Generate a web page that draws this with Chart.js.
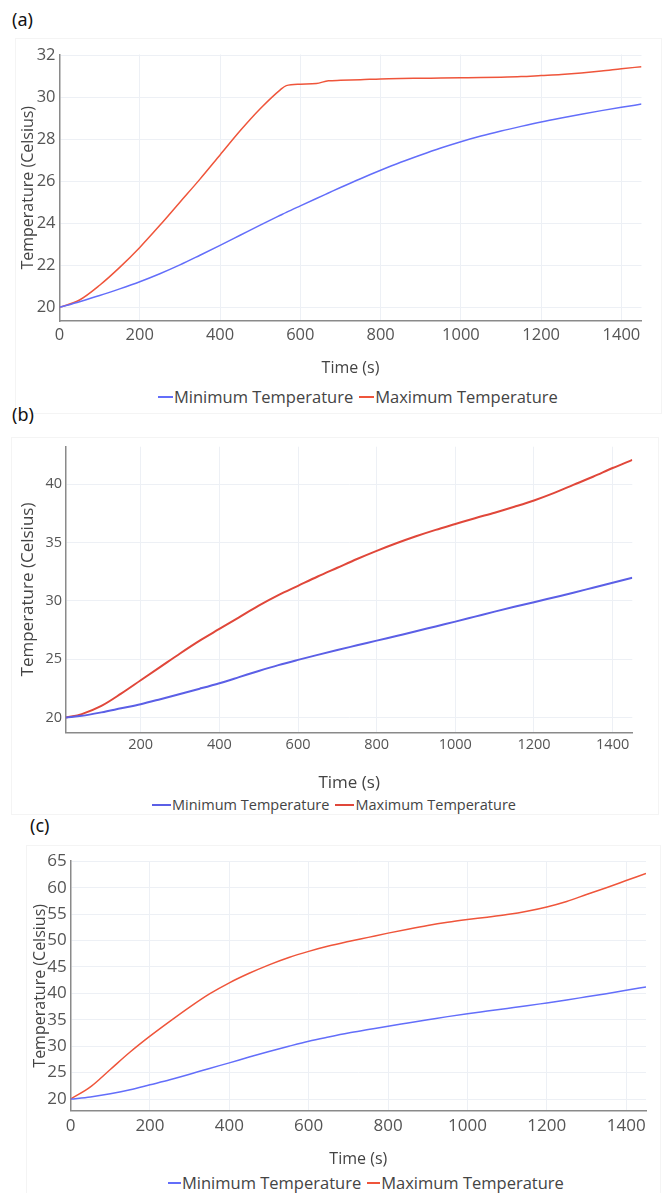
<!DOCTYPE html>
<html>
<head>
<meta charset="utf-8">
<script src="https://cdn.jsdelivr.net/npm/chart.js@4.4.1/dist/chart.umd.min.js"></script>
<style>
  html, body { margin: 0; padding: 0; background: #fff; }
  body { width: 668px; height: 1193px; position: relative; overflow: hidden; font-family: 'Open Sans', sans-serif; }
  .frame { position: absolute; border: 1px solid #f4f4f4; }
  .tag { position: absolute; font-family: 'Noto Sans', 'Open Sans', sans-serif; font-size: 18px; line-height: 22px; color: #111; }
  .wrap { position: absolute; left: 0; width: 668px; }
  .legend { position: absolute; display: flex; align-items: center; color: #444; white-space: nowrap; }
  .legend .item { display: flex; align-items: center; }
  .legend .swatch { display: inline-block; height: 0; border-top: 2px solid; margin-right: 1px; }
</style>
</head>
<body>
<script>
// --- data (time in s, temperature in Celsius) ---
const timeA = [0, 50, 100, 150, 200, 250, 300, 350, 400, 450, 500, 550, 565, 600, 640, 670, 700, 750, 800, 850, 900, 950, 1000, 1050, 1100, 1150, 1200, 1250, 1300, 1350, 1400, 1450];
const minTempA = [20.0, 20.27, 20.56, 20.88, 21.22, 21.6, 22.02, 22.48, 22.95, 23.43, 23.91, 24.38, 24.52, 24.83, 25.18, 25.44, 25.7, 26.12, 26.52, 26.9, 27.25, 27.58, 27.88, 28.15, 28.39, 28.61, 28.82, 29.01, 29.19, 29.36, 29.52, 29.67];
const maxTempA = [20.0, 20.35, 21.05, 21.9, 22.85, 23.9, 25.0, 26.1, 27.25, 28.4, 29.45, 30.35, 30.55, 30.62, 30.65, 30.78, 30.8, 30.83, 30.87, 30.89, 30.9, 30.91, 30.92, 30.93, 30.95, 30.98, 31.03, 31.08, 31.15, 31.24, 31.35, 31.45];

const timeB = [10, 50, 100, 150, 200, 250, 300, 350, 400, 450, 500, 550, 600, 650, 700, 750, 800, 850, 900, 950, 1000, 1050, 1100, 1150, 1200, 1250, 1300, 1350, 1400, 1450];
const minTempB = [20.0, 20.15, 20.45, 20.8, 21.15, 21.58, 22.03, 22.48, 22.95, 23.47, 24.0, 24.5, 24.95, 25.38, 25.8, 26.2, 26.6, 27.0, 27.4, 27.82, 28.23, 28.66, 29.09, 29.5, 29.89, 30.3, 30.71, 31.14, 31.57, 32.0];
const maxTempB = [20.0, 20.3, 21.0, 22.05, 23.2, 24.35, 25.5, 26.6, 27.6, 28.6, 29.6, 30.5, 31.3, 32.1, 32.85, 33.6, 34.3, 34.95, 35.55, 36.1, 36.6, 37.1, 37.57, 38.08, 38.62, 39.25, 39.95, 40.65, 41.4, 42.1];

const timeC = [0, 50, 100, 150, 200, 250, 300, 350, 400, 450, 500, 550, 600, 650, 700, 750, 800, 850, 900, 950, 1000, 1050, 1100, 1150, 1200, 1250, 1300, 1350, 1400, 1450];
const minTempC = [20.0, 20.4, 21.0, 21.75, 22.7, 23.65, 24.7, 25.8, 26.85, 27.95, 29.0, 30.0, 30.95, 31.75, 32.5, 33.15, 33.8, 34.4, 35.0, 35.6, 36.15, 36.65, 37.15, 37.65, 38.2, 38.75, 39.35, 39.95, 40.6, 41.23];
const maxTempC = [20.0, 22.3, 25.6, 28.9, 31.9, 34.7, 37.4, 39.9, 42.0, 43.8, 45.4, 46.8, 47.95, 48.95, 49.8, 50.6, 51.4, 52.15, 52.85, 53.45, 53.96, 54.42, 54.92, 55.55, 56.36, 57.4, 58.7, 60.0, 61.35, 62.7];

const xTickValues = [0, 200, 400, 600, 800, 1000, 1200, 1400];
const yTicksA = [20, 22, 24, 26, 28, 30, 32];
const yTicksB = [20, 25, 30, 35, 40];
const yTicksC = [20, 25, 30, 35, 40, 45, 50, 55, 60, 65];

const seriesLabels = ['Minimum Temperature', 'Maximum Temperature'];
const xTitle = 'Time (s)';
const yTitle = 'Temperature (Celsius)';

// --- layout of each panel (page pixels) ---
const panels = [
  {
    tag: '(a)', tagPos: [12, 8], frame: [15, 38, 645, 374],
    time: timeA, min: minTempA, max: maxTempA, yTicks: yTicksA,
    xRange: [0, 1450], yRange: [19.35, 32.03],
    wrapTop: 40, wrapHeight: 340, plot: [59.5, 54.5, 641.5, 321],
    xTickY: 335, xTitleY: 368, yTitleX: 28,
    tickFont: 16.5, titleFont: 16, lineWidth: 1.5,
    colors: ['#636efa', '#ef553b'],
    legend: { left: 158, y: 397, font: 16.5, swatch: 15, gap: 6 }
  },
  {
    tag: '(b)', tagPos: [12, 403], frame: [11, 437, 646, 376],
    time: timeB, min: minTempB, max: maxTempB, yTicks: yTicksB,
    xRange: [10, 1450], yRange: [18.74, 43.23],
    wrapTop: 430, wrapHeight: 365, plot: [66, 446.7, 632.3, 732.3],
    xTickY: 745, xTitleY: 783, yTitleX: 28,
    tickFont: 14.5, titleFont: 17, lineWidth: 2,
    colors: ['#5b5fe6', '#e0473a'],
    legend: { left: 152, y: 805, font: 14.5, swatch: 19, gap: 6 }
  },
  {
    tag: '(c)', tagPos: [30, 814], frame: [26, 845, 633, 350],
    time: timeC, min: minTempC, max: maxTempC, yTicks: yTicksC,
    xRange: [0, 1450], yRange: [17.8, 65.05],
    wrapTop: 845, wrapHeight: 325, plot: [70.6, 861, 646, 1110.7],
    xTickY: 1126, xTitleY: 1159, yTitleX: 40,
    tickFont: 17, titleFont: 16, lineWidth: 1.5,
    colors: ['#636efa', '#ef553b'],
    legend: { left: 168, y: 1183, font: 16.5, swatch: 13, gap: 6 }
  }
];

const FONT = "'Open Sans', sans-serif";

function toPoints(xs, ys) {
  return xs.map((x, i) => ({ x: x, y: ys[i] }));
}

// fixed tick positions, like the plotly axes
function fixedTicks(values) {
  return (scale) => {
    scale.ticks = values
      .filter(v => v >= scale.min && v <= scale.max)
      .map(v => ({ value: v }));
  };
}

// HTML legend built from the chart datasets
function buildLegend(chart, cfg) {
  const el = document.createElement('div');
  el.className = 'legend';
  el.style.left = cfg.left + 'px';
  el.style.top = (cfg.y - cfg.font * 0.6) + 'px';
  el.style.fontSize = cfg.font + 'px';
  el.style.lineHeight = (cfg.font * 1.2) + 'px';
  chart.data.datasets.forEach((ds, i) => {
    const item = document.createElement('span');
    item.className = 'item';
    if (i > 0) item.style.marginLeft = cfg.gap + 'px';
    const sw = document.createElement('span');
    sw.className = 'swatch';
    sw.style.width = cfg.swatch + 'px';
    sw.style.borderTopColor = ds.borderColor;
    const txt = document.createElement('span');
    txt.textContent = ds.label;
    item.appendChild(sw);
    item.appendChild(txt);
    el.appendChild(item);
  });
  document.body.appendChild(el);
}

function buildPanel(p) {
  const frame = document.createElement('div');
  frame.className = 'frame';
  frame.style.left = p.frame[0] + 'px';
  frame.style.top = p.frame[1] + 'px';
  frame.style.width = p.frame[2] + 'px';
  frame.style.height = p.frame[3] + 'px';
  document.body.appendChild(frame);

  const tag = document.createElement('div');
  tag.className = 'tag';
  tag.style.left = p.tagPos[0] + 'px';
  tag.style.top = p.tagPos[1] + 'px';
  tag.textContent = p.tag;
  document.body.appendChild(tag);

  const wrap = document.createElement('div');
  wrap.className = 'wrap';
  wrap.style.top = p.wrapTop + 'px';
  wrap.style.height = p.wrapHeight + 'px';
  const canvas = document.createElement('canvas');
  wrap.appendChild(canvas);
  document.body.appendChild(wrap);

  const [pl, pt, pr, pb] = p.plot;
  const titleLH = p.titleFont * 1.2;
  const tickLH = p.tickFont * 1.2;
  const xHeight = p.xTitleY - pb + titleLH / 2;

  const lineStyle = {
    borderWidth: p.lineWidth,
    pointRadius: 0,
    fill: false,
    cubicInterpolationMode: 'monotone'
  };

  const chart = new Chart(canvas, {
    type: 'line',
    data: {
      datasets: [
        { label: seriesLabels[0], data: toPoints(p.time, p.min), borderColor: p.colors[0], ...lineStyle },
        { label: seriesLabels[1], data: toPoints(p.time, p.max), borderColor: p.colors[1], ...lineStyle }
      ]
    },
    options: {
      responsive: true,
      maintainAspectRatio: false,
      animation: false,
      layout: {
        padding: {
          left: 0,
          top: pt - p.wrapTop,
          right: 668 - pr,
          bottom: p.wrapTop + p.wrapHeight - pb - xHeight
        }
      },
      plugins: {
        legend: { display: false },
        tooltip: { enabled: false }
      },
      scales: {
        x: {
          type: 'linear',
          min: p.xRange[0],
          max: p.xRange[1],
          afterBuildTicks: fixedTicks(xTickValues),
          ticks: {
            padding: p.xTickY - pb - tickLH / 2,
            color: '#555',
            font: { family: FONT, size: p.tickFont },
            maxRotation: 0,
            callback: (v) => String(v)
          },
          grid: { color: '#edf0f5', lineWidth: 1, drawTicks: false },
          border: { display: true, color: '#8a8a8a', width: 1.5 },
          title: {
            display: true,
            text: xTitle,
            color: '#444',
            padding: 0,
            font: { family: FONT, size: p.titleFont }
          },
          afterFit: (scale) => { scale.height = xHeight; }
        },
        y: {
          type: 'linear',
          min: p.yRange[0],
          max: p.yRange[1],
          afterBuildTicks: fixedTicks(p.yTicks),
          ticks: {
            padding: 4,
            color: '#555',
            font: { family: FONT, size: p.tickFont },
            callback: (v) => String(v)
          },
          grid: { color: '#edf0f5', lineWidth: 1, drawTicks: false },
          border: { display: true, color: '#8a8a8a', width: 1.5 },
          title: {
            display: true,
            text: yTitle,
            color: '#444',
            padding: { top: p.yTitleX - titleLH / 2, bottom: 0 },
            font: { family: FONT, size: p.titleFont }
          },
          afterFit: (scale) => { scale.width = pl; }
        }
      }
    }
  });

  buildLegend(chart, p.legend);
  return chart;
}

const charts = panels.map(buildPanel);
</script>
</body>
</html>
